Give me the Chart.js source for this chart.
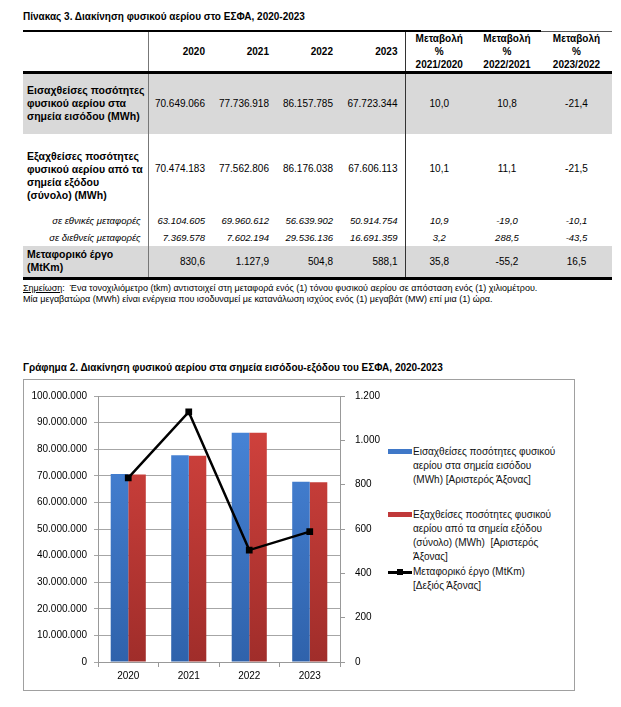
<!DOCTYPE html>
<html lang="el">
<head>
<meta charset="utf-8">
<title>Διακίνηση φυσικού αερίου στο ΕΣΦΑ</title>
<script src="https://cdn.jsdelivr.net/npm/chart.js@4/dist/chart.umd.min.js"></script>
<style>
  body { margin: 0; background: #fff; font-family: "Liberation Sans", Arial, sans-serif; color: #000; }
  .page { position: relative; width: 621px; height: 707px; overflow: hidden; }
  .title { position: absolute; left: 23px; font-size: 10px; font-weight: bold; line-height: 12px; white-space: nowrap; }

  table { position: absolute; left: 23px; top: 30px; width: 589px; border-collapse: collapse; table-layout: fixed; font-size: 10px; }
  td, th { padding: 0 7px 0 4px; white-space: nowrap; line-height: 13px; }
  th { font-weight: bold; text-align: right; border-top: 2px solid #000; border-bottom: 3px solid #000; height: 39px; }
  th.last { border-top: 1px solid #555; }
  td { text-align: right; }
  .c { text-align: center; padding: 0; }
  .lab { text-align: left; font-weight: bold; font-size: 10.5px; }
  .div1 { border-right: 1px solid #777; }
  .div2 { border-right: 1px solid #333; }
  tr.grey td { background: #d9d9d9; }
  tr.sub td { font-style: italic; height: 17px; font-size: 9.5px; }
  tr.sub td.lab { text-align: right; font-weight: normal; font-size: 9.5px; }
  tr.endrow td { border-bottom: 3px solid #000; }
  .note { position: absolute; left: 23px; top: 283px; font-size: 9px; line-height: 11px; white-space: nowrap; }
  .note u { text-decoration: underline; }

  .chartbox { position: absolute; left: 23px; top: 379px; width: 552px; height: 312px; box-sizing: border-box; border: 1px solid #a0a0a0; }
  .canvaswrap { position: absolute; left: 24px; top: 380px; width: 362px; height: 309px; }
  .legend { position: absolute; font-size: 10px; line-height: 14px; color: #111; white-space: nowrap; }
  .sw { position: absolute; }
</style>
</head>
<body>
<div class="page">
  <div class="title" style="top:11px">Πίνακας 3. Διακίνηση φυσικού αερίου στο ΕΣΦΑ, 2020-2023</div>
  <table id="tbl">
    <colgroup>
      <col style="width:125px"><col style="width:64px"><col style="width:64px"><col style="width:64px"><col style="width:65px">
      <col style="width:68px"><col style="width:68px"><col style="width:71px">
    </colgroup>
    <thead id="thead"></thead>
    <tbody id="tbody"></tbody>
  </table>
  <div class="note">
    <u>Σημείωση</u>:&nbsp; Ένα τονοχιλιόμετρο (tkm) αντιστοιχεί στη μεταφορά ενός (1) τόνου φυσικού αερίου σε απόσταση ενός (1) χιλιομέτρου.<br>
    Μία μεγαβατώρα (MWh) είναι ενέργεια που ισοδυναμεί με κατανάλωση ισχύος ενός (1) μεγαβάτ (MW) επί μια (1) ώρα.
  </div>

  <div class="title" style="top:362px">Γράφημα 2. Διακίνηση φυσικού αερίου στα σημεία εισόδου-εξόδου του ΕΣΦΑ, 2020-2023</div>
  <div class="chartbox"></div>
  <div class="canvaswrap"><canvas id="gasChart"></canvas></div>
  <div id="legend"></div>
</div>

<script>
// ========== Data ==========
const years = ['2020', '2021', '2022', '2023'];
const changeLabels = ['2021/2020', '2022/2021', '2023/2022'];

const imports = [70649066, 77736918, 86157785, 67723344];      // MWh
const exportsTotal = [70474183, 77562806, 86176038, 67606113]; // MWh
const exportsDomestic = [63104605, 69960612, 56639902, 50914754];
const exportsIntl = [7369578, 7602194, 29536136, 16691359];
const transport = [830.6, 1127.9, 504.8, 588.1];                // MtKm

const importsChange = [10.0, 10.8, -21.4];
const exportsChange = [10.1, 11.1, -21.5];
const domesticChange = [10.9, -19.0, -10.1];
const intlChange = [3.2, 288.5, -43.5];
const transportChange = [35.8, -55.2, 16.5];

const leftTicks = { min: 0, max: 100000000, step: 10000000 };
const rightTicks = { min: 0, max: 1200, step: 200 };

const seriesNames = [
  'Εισαχθείσες ποσότητες φυσικού αερίου στα σημεία εισόδου (MWh) [Αριστερός Άξονας]',
  'Εξαχθείσες ποσότητες φυσικού αερίου από τα σημεία εξόδου (σύνολο) (MWh)  [Αριστερός Άξονας]',
  'Μεταφορικό έργο (MtKm) [Δεξιός Άξονας]'
];
// legend line breaks as in the report
const legendLines = [
  ['Εισαχθείσες ποσότητες φυσικού', 'αερίου στα σημεία εισόδου', '(MWh) [Αριστερός Άξονας]'],
  ['Εξαχθείσες ποσότητες φυσικού', 'αερίου από τα σημεία εξόδου', '(σύνολο) (MWh)&nbsp; [Αριστερός', 'Άξονας]'],
  ['Μεταφορικό έργο (MtKm)', '[Δεξιός Άξονας]']
];

// Greek number format: 70.649.066 / 1.127,9
function fmt(v, dec) {
  let [i, d] = v.toFixed(dec || 0).split('.');
  const neg = i.startsWith('-');
  if (neg) i = i.slice(1);
  i = i.replace(/\B(?=(\d{3})+(?!\d))/g, '.');
  return (neg ? '-' : '') + i + (d ? ',' + d : '');
}

// ========== Table ==========
function buildTable() {
  let head = '<tr><th class="div1"></th>';
  years.forEach((y, k) => { head += `<th${k === 3 ? ' class="div2"' : ''}>${y}</th>`; });
  changeLabels.forEach((c, k) => {
    head += `<th class="c${k === 2 ? ' last' : ''}">Μεταβολή<br>%<br>${c}</th>`;
  });
  document.getElementById('thead').innerHTML = head + '</tr>';

  const rows = [
    { label: 'Εισαχθείσες ποσότητες<br>φυσικού αερίου στα<br>σημεία εισόδου (MWh)', vals: imports, ch: importsChange, cls: 'grey', h: 61 },
    { label: 'Εξαχθείσες ποσότητες<br>φυσικού αερίου από τα<br>σημεία εξόδου<br>(σύνολο) (MWh)', vals: exportsTotal, ch: exportsChange, cls: '', h: 78, lift: 8, labTop: 6 },
    { label: 'σε εθνικές μεταφορές', vals: exportsDomestic, ch: domesticChange, cls: 'sub' },
    { label: 'σε διεθνείς μεταφορές', vals: exportsIntl, ch: intlChange, cls: 'sub' },
    { label: 'Μεταφορικό έργο<br>(MtKm)', vals: transport, ch: transportChange, cls: 'grey endrow', h: 33, dec: 1 }
  ];

  let body = '';
  rows.forEach(r => {
    const st = r.h ? ` style="height:${r.h}px"` : '';
    const lift = r.lift ? ` style="padding-bottom:${r.lift}px"` : '';
    const labSt = r.labTop ? ` style="padding-top:${r.labTop}px"` : '';
    body += `<tr class="${r.cls}"${st}><td class="lab div1"${labSt}>${r.label}</td>`;
    r.vals.forEach((v, k) => { body += `<td${k === 3 ? ' class="div2"' : ''}${lift}>${fmt(v, r.dec)}</td>`; });
    r.ch.forEach(v => { body += `<td class="c"${lift}>${fmt(v, 1)}</td>`; });
    body += '</tr>';
  });
  document.getElementById('tbody').innerHTML = body;
}
buildTable();

// ========== Chart ==========
function vGrad(top, bottom) {
  return function (context) {
    const area = context.chart.chartArea;
    if (!area) return bottom;
    const g = context.chart.ctx.createLinearGradient(0, area.top, 0, area.bottom);
    g.addColorStop(0, top);
    g.addColorStop(1, bottom);
    return g;
  };
}

const tickFont = { family: '"Liberation Sans", Arial, sans-serif', size: 10 };

const gasChart = new Chart(document.getElementById('gasChart').getContext('2d'), {
  type: 'bar',
  data: {
    labels: years,
    datasets: [
      {
        label: seriesNames[0],
        data: imports,
        yAxisID: 'y',
        backgroundColor: vGrad('#4a88dc', '#2f62ab'),
        legendColor: '#3f78c8',
        barPercentage: 1,
        categoryPercentage: 0.58,
        order: 1
      },
      {
        label: seriesNames[1],
        data: exportsTotal,
        yAxisID: 'y',
        backgroundColor: vGrad('#d6443f', '#a02d2a'),
        legendColor: '#c0393a',
        barPercentage: 1,
        categoryPercentage: 0.58,
        order: 1
      },
      {
        type: 'line',
        label: seriesNames[2],
        data: transport,
        yAxisID: 'y1',
        borderColor: '#000',
        backgroundColor: '#000',
        borderWidth: 2.5,
        pointStyle: 'rect',
        pointRadius: 3,
        pointHoverRadius: 4,
        tension: 0,
        order: 0
      }
    ]
  },
  options: {
    responsive: true,
    maintainAspectRatio: false,
    animation: false,
    layout: { padding: { top: 9 } },
    plugins: {
      legend: { display: false },
      tooltip: {
        callbacks: {
          label: c => c.dataset.label + ': ' + fmt(c.parsed.y, c.datasetIndex === 2 ? 1 : 0)
        }
      }
    },
    scales: {
      x: {
        grid: { offset: true, drawOnChartArea: false, tickLength: 5, color: '#999' },
        border: { color: '#999' },
        ticks: { font: tickFont, color: '#000', padding: 3 },
        afterFit: s => { s.height = 27; }
      },
      y: {
        position: 'left',
        min: leftTicks.min,
        max: leftTicks.max,
        ticks: { stepSize: leftTicks.step, font: tickFont, color: '#000', padding: 7, callback: v => fmt(v) },
        grid: { color: '#a6a6a6', tickLength: 4 },
        border: { color: '#999' },
        afterFit: s => { s.width = 74; }
      },
      y1: {
        position: 'right',
        min: rightTicks.min,
        max: rightTicks.max,
        ticks: { stepSize: rightTicks.step, font: tickFont, color: '#000', padding: 10, callback: v => fmt(v) },
        grid: { drawOnChartArea: false, tickLength: 5, color: '#999' },
        border: { color: '#999' },
        afterFit: s => { s.width = 46; }
      }
    }
  }
});

// ========== Legend (HTML, right of the plot) ==========
function buildLegend(chart) {
  const tops = [445, 508, 565];
  let html = '';
  chart.data.datasets.forEach((ds, i) => {
    const t = tops[i];
    if (ds.type === 'line') {
      html += `<div class="sw" style="left:388px;top:${t + 6}px;width:24px;height:2.5px;background:${ds.borderColor}"></div>`;
      html += `<div class="sw" style="left:397px;top:${t + 4}px;width:6px;height:6px;background:${ds.borderColor}"></div>`;
    } else {
      html += `<div class="sw" style="left:388px;top:${t + 4}px;width:24px;height:5px;background:${ds.legendColor}"></div>`;
    }
    html += `<div class="legend" style="left:413px;top:${t}px">${legendLines[i].join('<br>')}</div>`;
  });
  document.getElementById('legend').innerHTML = html;
}
buildLegend(gasChart);
</script>
</body>
</html>
